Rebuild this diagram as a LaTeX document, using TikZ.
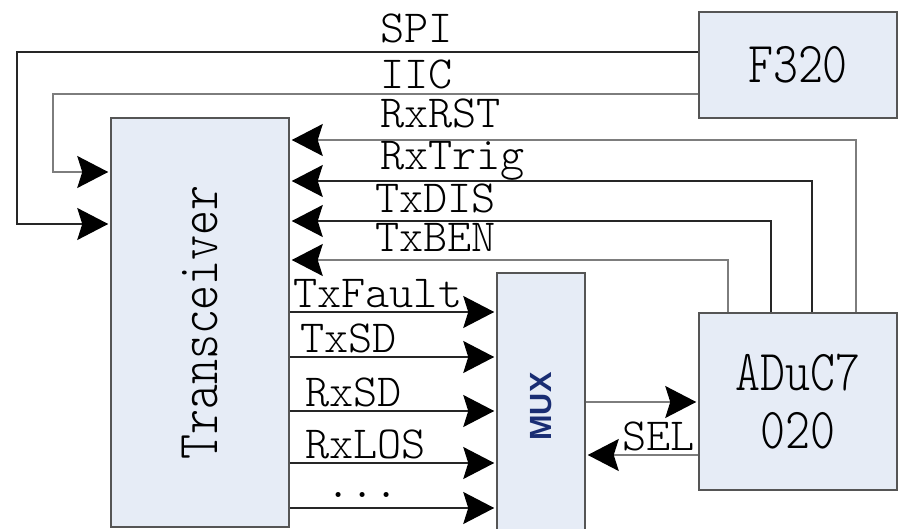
\documentclass[tikz,border=0pt]{standalone}
\usepackage{fontspec}
\setmainfont{lmmonolt10-regular.otf}
\newfontfamily\boxfont{lmmonolt10-regular.otf}[FakeStretch=0.82]
\newfontfamily\muxfont{Liberation Sans}
\usetikzlibrary{calc, arrows.meta}

\definecolor{boxfill}{RGB}{230,236,246}
\definecolor{boxline}{RGB}{85,85,85}
\definecolor{wiregray}{RGB}{125,125,125}
\definecolor{muxblue}{RGB}{25,45,115}

\tikzset{
    blk/.style={draw=boxline, fill=boxfill, line width=1.5pt, inner sep=0pt,
        font=\boxfont\fontsize{58}{62}\selectfont},
    sig/.style={anchor=base west, inner sep=0pt,
        font=\fontsize{46}{50}\selectfont},
    wire/.style={draw=black!85, line width=1.5pt},
    wiregr/.style={draw=wiregray, line width=1.5pt},
    arr/.style={-{Stealth[length=31pt, width=32pt, inset=5pt, color=black]}, shorten >=2pt}
}

\begin{document}
\begin{tikzpicture}[x=1pt, y=-1pt]
    \useasboundingbox (0,0) rectangle (903,529);

    \node[blk, rotate=90, minimum width=409, minimum height=178] (trx) at (200,322.5) {Transceiver};
    \node[blk, minimum width=198, minimum height=106] (f320) at (798,65) {F320};
    \node[blk, minimum width=198, minimum height=177, align=center] (aduc) at (798,401.5) {ADuC7\\[-4pt]020};
    \node[blk, rotate=90, minimum width=267, minimum height=88, text=muxblue,
        font=\muxfont\bfseries] (mux) at (541,406.5) {\resizebox{68pt}{!}{MUX}};

    \coordinate (spi1) at (17,52);
    \coordinate (spi2) at (17,224);
    \coordinate (iic1) at (53,94);
    \coordinate (iic2) at (53,172);
    \coordinate (rst) at (856,140);
    \coordinate (trig) at (812,181);
    \coordinate (dis) at (771,221);
    \coordinate (ben) at (728,260);
    \coordinate (out) at (0,402);
    \coordinate (sel) at (0,455);

    % F320 -> Transceiver
    \draw[wire, arr] (f320.west |- spi1) -- (spi1) -- (spi2) -- (trx.north |- spi2);
    \draw[wiregr, arr] (f320.west |- iic1) -- (iic1) -- (iic2) -- (trx.north |- iic2);

    % ADuC7020 -> Transceiver
    \draw[wiregr, arr] (aduc.north -| rst) -- (rst) -- (trx.south |- rst);
    \draw[wire, arr] (aduc.north -| trig) -- (trig) -- (trx.south |- trig);
    \draw[wire, arr] (aduc.north -| dis) -- (dis) -- (trx.south |- dis);
    \draw[wiregr, arr] (aduc.north -| ben) -- (ben) -- (trx.south |- ben);

    % Transceiver -> MUX
    \foreach \y in {312,357,411,463,508}
        \draw[wire, arr] (trx.south |- 0,\y) -- (mux.north |- 0,\y);

    % MUX <-> ADuC7020
    \draw[wiregr, arr] (mux.south |- out) -- (aduc.west |- out);
    \draw[wiregr, arr] (aduc.west |- sel) -- (mux.south |- sel);

    \node[sig] (lspi) at (380,43) {SPI};
    \node[sig] (liic) at (380,89) {IIC};
    \node[sig] (lrst) at (380,128) {RxRST};
    \node[sig] (ltrig) at (380,170) {RxTrig};
    \node[sig] (ldis) at (375,213) {TxDIS};
    \node[sig] (lben) at (375,252) {TxBEN};
    \node[sig] (lfault) at (293,308) {TxFault};
    \node[sig] (ltxsd) at (300,353) {TxSD};
    \node[sig] (lrxsd) at (305,407) {RxSD};
    \node[sig] (llos) at (305,459) {RxLOS};
    \node[sig] (ldots) at (326,497) {...};
    \node[sig] (lsel) at (622,450) {SEL};
\end{tikzpicture}
\end{document}
